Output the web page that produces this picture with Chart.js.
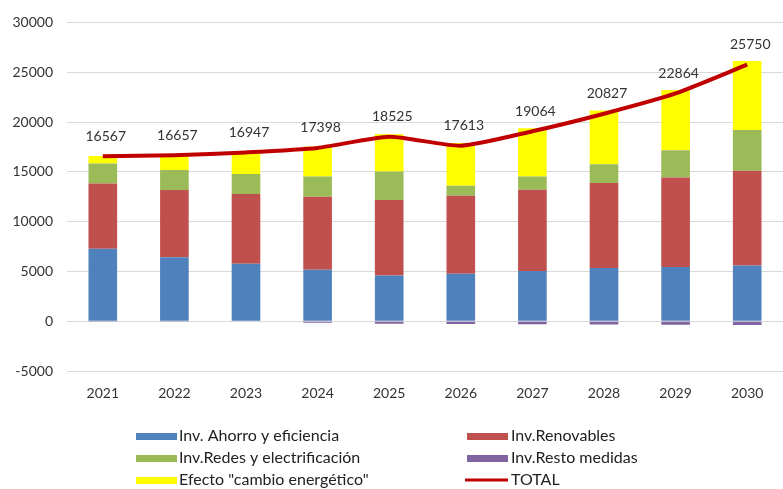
<!DOCTYPE html>
<html>
<head>
<meta charset="utf-8">
<script src="https://cdn.jsdelivr.net/npm/chart.js@4.4.1/dist/chart.umd.min.js"></script>
<style>
  html, body { margin: 0; padding: 0; background: #fff; }
  #wrap { width: 783px; height: 489px; position: relative; }
</style>
</head>
<body>
<div id="wrap"><canvas id="chart" width="783" height="489"></canvas></div>
<script>
  // Data
  const years = ['2021', '2022', '2023', '2024', '2025', '2026', '2027', '2028', '2029', '2030'];
  const ahorro = [7270, 6430, 5770, 5170, 4600, 4770, 5030, 5330, 5430, 5600];
  const renovables = [6560, 6740, 7000, 7330, 7570, 7830, 8170, 8540, 9000, 9500];
  const redes = [2000, 2000, 2000, 2030, 2860, 1000, 1330, 1900, 2740, 4100];
  const resto = [-20, -40, -60, -150, -250, -280, -300, -330, -350, -370];
  const cambio = [757, 1527, 2237, 3018, 3745, 4293, 4834, 5387, 6044, 6920];
  const total = [16567, 16657, 16947, 17398, 18525, 17613, 19064, 20827, 22864, 25750];

  const FONT = 'Lato, "Open Sans", sans-serif';

  // value labels above the TOTAL line
  const totalLabels = {
    id: 'totalLabels',
    afterDatasetsDraw(chart) {
      const ctx = chart.ctx;
      const idx = chart.data.datasets.findIndex(d => d.type === 'line');
      const meta = chart.getDatasetMeta(idx);
      ctx.save();
      ctx.font = '14px ' + FONT;
      ctx.fillStyle = '#333';
      ctx.textAlign = 'center';
      ctx.textBaseline = 'middle';
      meta.data.forEach((pt, i) => {
        ctx.fillText(String(chart.data.datasets[idx].data[i]), pt.x + 3, pt.y - 20);
      });
      ctx.restore();
    }
  };

  // two-column legend under the chart
  const gridLegend = {
    id: 'gridLegend',
    afterDraw(chart) {
      const ctx = chart.ctx;
      const cols = [{ sw: 136, tx: 179 }, { sw: 467, tx: 511 }];
      const rows = [436, 458, 480];
      ctx.save();
      ctx.font = '16px ' + FONT;
      ctx.textBaseline = 'middle';
      chart.data.datasets.forEach((ds, k) => {
        const c = cols[k % 2];
        const y = rows[Math.floor(k / 2)];
        if (ds.type === 'line') {
          ctx.fillStyle = ds.borderColor;
          ctx.fillRect(c.sw - 2, y - 1.5, 43, 3);
        } else {
          ctx.fillStyle = ds.backgroundColor;
          ctx.fillRect(c.sw, y - 3, 41, 7);
        }
        ctx.fillStyle = '#222';
        ctx.textAlign = 'left';
        ctx.fillText(ds.label, c.tx, y);
      });
      ctx.restore();
    }
  };

  const barDefaults = { type: 'bar', stack: 's', order: 1, barPercentage: 0.4, categoryPercentage: 1 };

  new Chart(document.getElementById('chart'), {
    data: {
      labels: years,
      datasets: [
        { ...barDefaults, label: 'Inv. Ahorro y eficiencia', data: ahorro, backgroundColor: '#4F81BD' },
        { ...barDefaults, label: 'Inv.Renovables', data: renovables, backgroundColor: '#C0504D' },
        { ...barDefaults, label: 'Inv.Redes y electrificación', data: redes, backgroundColor: '#9BBB59' },
        { ...barDefaults, label: 'Inv.Resto medidas', data: resto, backgroundColor: '#8064A2' },
        { ...barDefaults, label: 'Efecto "cambio energético"', data: cambio, backgroundColor: '#FFFF00' },
        {
          type: 'line', label: 'TOTAL', data: total, order: 0,
          borderColor: '#C00000', borderWidth: 4, pointRadius: 0, tension: 0.2, fill: false
        }
      ]
    },
    options: {
      responsive: false,
      animation: false,
      layout: { padding: { top: 14, bottom: 90, right: 0, left: 0 } },
      plugins: { legend: { display: false }, tooltip: { enabled: false } },
      scales: {
        x: {
          stacked: true,
          grid: { display: false, drawTicks: false },
          border: { display: false },
          ticks: { font: { size: 14, family: FONT }, color: '#333', padding: 14 },
          afterFit: s => { s.height = 28; }
        },
        y: {
          stacked: true,
          min: -5000, max: 30000,
          grid: { color: '#D9D9D9', drawTicks: false },
          border: { display: false },
          ticks: {
            stepSize: 5000, font: { size: 14, family: FONT }, color: '#333', padding: 14,
            callback: v => String(v)
          },
          afterFit: s => { s.width = 67; }
        }
      }
    },
    plugins: [totalLabels, gridLegend]
  });
</script>
</body>
</html>
